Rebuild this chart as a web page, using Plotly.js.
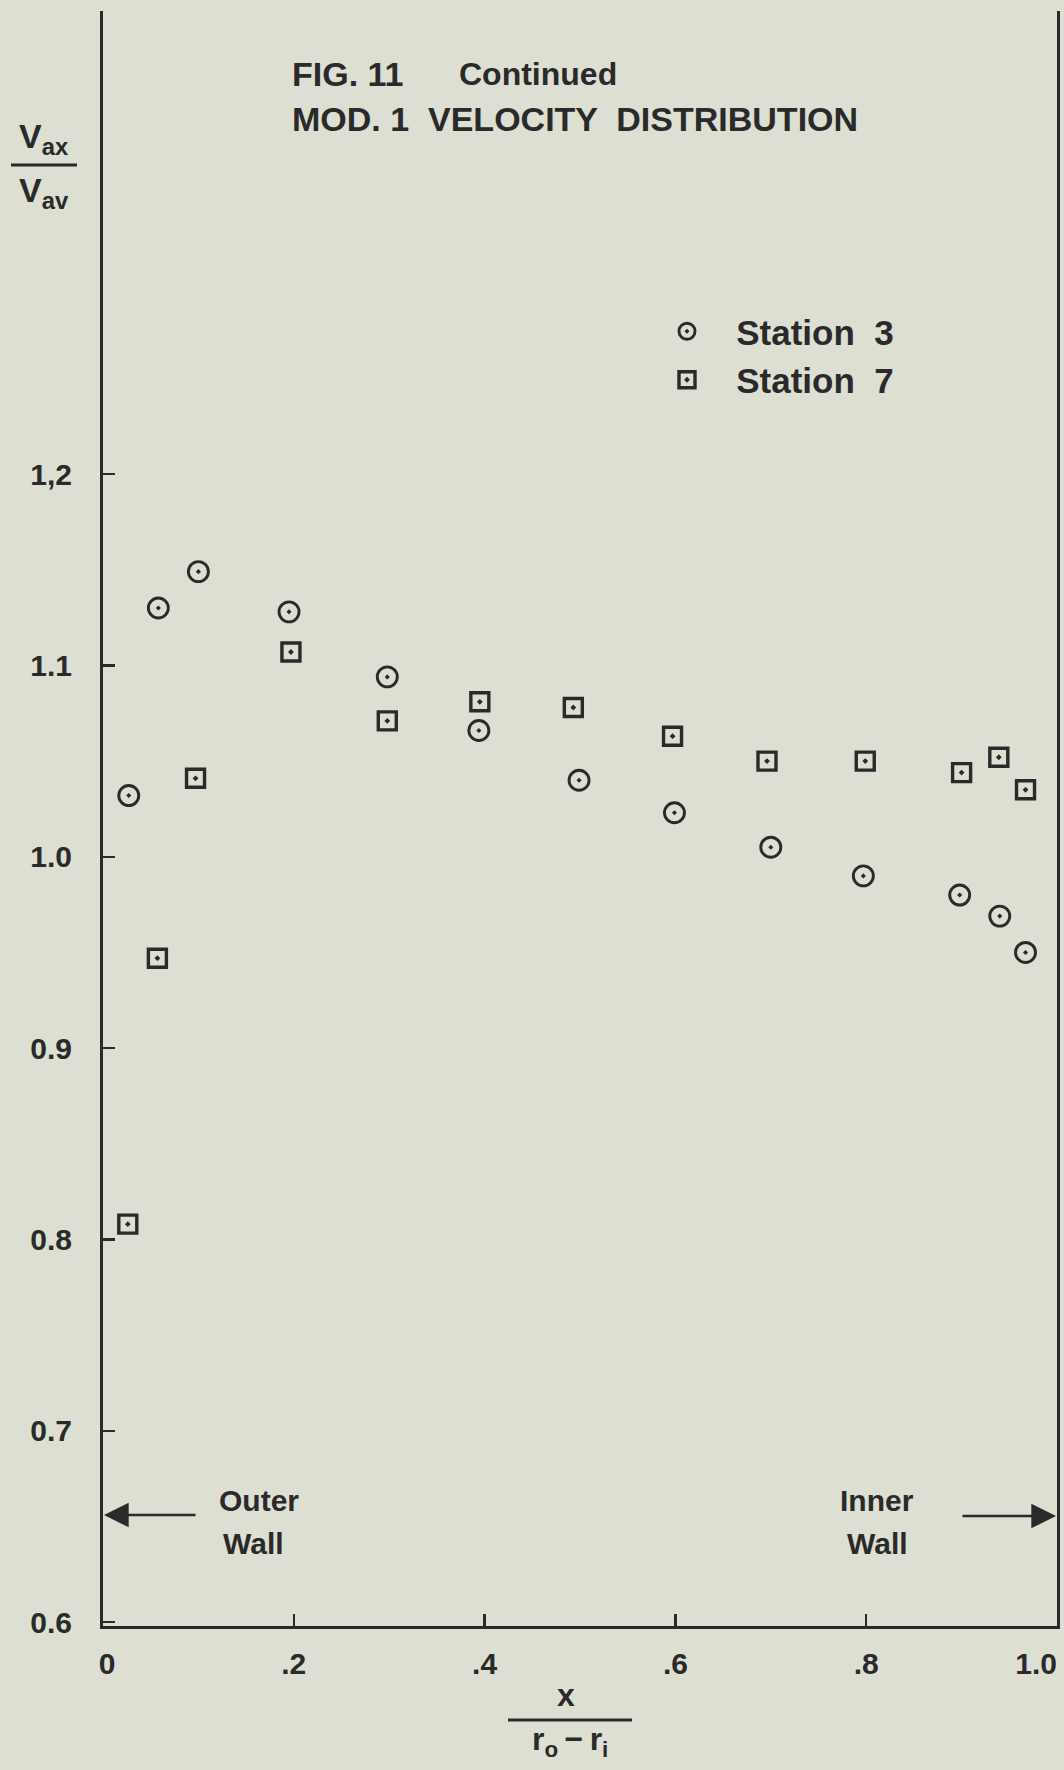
<!DOCTYPE html>
<html>
<head>
<meta charset="utf-8">
<script src="https://cdn.plot.ly/plotly-3.0.1.min.js"></script>
<style>
  html, body { margin: 0; padding: 0; background: #dddfd2; }
  #chart { width: 1064px; height: 1770px; }
</style>
</head>
<body>
<div id="chart"></div>
<script>
// ---- data ----
const station3X = [0.027, 0.058, 0.100, 0.195, 0.298, 0.394, 0.499, 0.599, 0.700, 0.797, 0.898, 0.940, 0.967];
const station3Y = [1.032, 1.130, 1.149, 1.128, 1.094, 1.066, 1.040, 1.023, 1.005, 0.990, 0.980, 0.969, 0.950];
const station7X = [0.026, 0.057, 0.097, 0.197, 0.298, 0.395, 0.493, 0.597, 0.696, 0.799, 0.900, 0.939, 0.967];
const station7Y = [0.808, 0.947, 1.041, 1.107, 1.071, 1.081, 1.078, 1.063, 1.050, 1.050, 1.044, 1.052, 1.035];

const xTickVals = [0, 0.2, 0.4, 0.6, 0.8];
const xTickText = ['\u00a00', '.2', '.4', '.6', '.8'];
const xEndTickVals = [1.0];
const xEndTickText = ['1.0'];
const yTickVals = [0.6, 0.7, 0.8, 0.9, 1.0, 1.1, 1.2];
const yTickText = ['0.6', '0.7', '0.8', '0.9', '1.0', '1.1', '1,2'];

const seriesNames = ['Station\u00a0\u00a03', 'Station\u00a0\u00a07'];

// ---- styling ----
const INK = '#2a2a2a';
const BG = '#dddfd2';
const FONT = 'Liberation Sans, Arial, sans-serif';
const W = 1064, H = 1770;
const M = {l: 103, r: 7, t: 11, b: 144};
const PW = W - M.l - M.r, PH = H - M.t - M.b;
const px = fx => (fx - M.l) / PW;           // page x -> paper x
const py = fy => (H - M.b - fy) / PH;        // page y -> paper y

const traces = [
  {
    type: 'scatter', mode: 'markers', name: '\u00a0\u00a0\u00a0' + seriesNames[0],
    x: station3X, y: station3Y,
    marker: {symbol: 'circle-open-dot', size: 20, color: INK, line: {width: 2.9, color: INK}}
  },
  {
    type: 'scatter', mode: 'markers', name: '\u00a0\u00a0\u00a0' + seriesNames[1],
    x: station7X, y: station7Y,
    marker: {symbol: 'square-open-dot', size: 18, color: INK, line: {width: 3.4, color: INK}}
  },
  // empty trace so that the end-label axis is drawn
  {type: 'scatter', mode: 'markers', x: [], y: [], xaxis: 'x2', yaxis: 'y',
   showlegend: false, hoverinfo: 'skip'}
];

const bold = (size) => ({family: FONT, size: size, color: INK, weight: 'bold'});

const annotations = [
  // figure title
  {xref: 'paper', yref: 'paper', x: px(290), y: py(74), xanchor: 'left', yanchor: 'middle',
   text: 'FIG. 11', showarrow: false, font: bold(34)},
  {xref: 'paper', yref: 'paper', x: px(457), y: py(74), xanchor: 'left', yanchor: 'middle',
   text: 'Continued', showarrow: false, font: bold(32)},
  {xref: 'paper', yref: 'paper', x: px(290), y: py(119), xanchor: 'left', yanchor: 'middle',
   text: 'MOD. 1  VELOCITY  DISTRIBUTION', showarrow: false, font: bold(34)},
  // y-axis title (fraction)
  {xref: 'paper', yref: 'paper', x: px(44), y: py(138), xanchor: 'center', yanchor: 'middle',
   text: 'V<sub>ax</sub>', showarrow: false, font: bold(34)},
  {xref: 'paper', yref: 'paper', x: px(44), y: py(192), xanchor: 'center', yanchor: 'middle',
   text: 'V<sub>av</sub>', showarrow: false, font: bold(34)},
  // x-axis title (fraction)
  {xref: 'paper', yref: 'paper', x: px(566), y: py(1695), xanchor: 'center', yanchor: 'middle',
   text: 'x', showarrow: false, font: bold(32)},
  {xref: 'paper', yref: 'paper', x: px(570), y: py(1742), xanchor: 'center', yanchor: 'middle',
   text: 'r<sub>o</sub>\u2009\u2212\u2009r<sub>i</sub>', showarrow: false, font: bold(32)},
  // wall labels
  {xref: 'paper', yref: 'paper', x: px(259), y: py(1500), xanchor: 'center', yanchor: 'middle',
   text: 'Outer', showarrow: false, font: bold(30)},
  {xref: 'paper', yref: 'paper', x: px(253), y: py(1543), xanchor: 'center', yanchor: 'middle',
   text: 'Wall', showarrow: false, font: bold(30)},
  {xref: 'paper', yref: 'paper', x: px(877), y: py(1500), xanchor: 'center', yanchor: 'middle',
   text: 'Inner', showarrow: false, font: bold(30)},
  {xref: 'paper', yref: 'paper', x: px(877), y: py(1543), xanchor: 'center', yanchor: 'middle',
   text: 'Wall', showarrow: false, font: bold(30)},
  // wall arrows
  {xref: 'paper', yref: 'paper', axref: 'paper', ayref: 'paper',
   x: px(104), y: py(1515), ax: px(197), ay: py(1515), text: '', showarrow: true,
   arrowhead: 2, arrowsize: 1.9, arrowwidth: 2.6, arrowcolor: INK, standoff: 0},
  {xref: 'paper', yref: 'paper', axref: 'paper', ayref: 'paper',
   x: px(1056), y: py(1516), ax: px(961), ay: py(1516), text: '', showarrow: true,
   arrowhead: 2, arrowsize: 1.9, arrowwidth: 2.6, arrowcolor: INK, standoff: 0}
];

const shapes = [
  {type: 'line', xref: 'paper', yref: 'paper', x0: px(11), x1: px(77), y0: py(165), y1: py(165),
   line: {color: INK, width: 3}},
  {type: 'line', xref: 'paper', yref: 'paper', x0: px(508), x1: px(632), y0: py(1720), y1: py(1720),
   line: {color: INK, width: 3}}
];

const layout = {
  width: W, height: H,
  margin: M,
  paper_bgcolor: BG, plot_bgcolor: BG,
  font: {family: FONT, color: INK},
  showlegend: true,
  legend: {
    x: px(667), y: py(302), xanchor: 'left', yanchor: 'top',
    bgcolor: 'rgba(0,0,0,0)', borderwidth: 0,
    font: bold(35), itemwidth: 30, tracegroupgap: 0
  },
  xaxis: {
    range: [0, 1.0], showgrid: false, zeroline: false,
    showline: true, linecolor: INK, linewidth: 3, mirror: false,
    ticks: 'inside', ticklen: 12, tickwidth: 2.5, tickcolor: INK,
    tickvals: xTickVals, ticktext: xTickText,
    tickfont: bold(30), ticklabelstandoff: 9
  },
  xaxis2: {
    overlaying: 'x', anchor: 'y', side: 'bottom',
    range: [0, 1.0], showgrid: false, zeroline: false, showline: false,
    ticks: '', tickvals: xEndTickVals, ticktext: xEndTickText,
    ticklabelposition: 'outside left', ticklabeloverflow: 'allow',
    tickfont: bold(30), ticklabelstandoff: 17
  },
  yaxis: {
    range: [0.598, 1.442], showgrid: false, zeroline: false,
    showline: true, linecolor: INK, linewidth: 3, mirror: true,
    ticks: 'inside', ticklen: 12, tickwidth: 2.5, tickcolor: INK,
    tickvals: yTickVals, ticktext: yTickText,
    tickfont: bold(30), ticklabelstandoff: 22
  },
  annotations: annotations,
  shapes: shapes
};

Plotly.newPlot('chart', traces, layout, {displayModeBar: false, staticPlot: true});
</script>
</body>
</html>
